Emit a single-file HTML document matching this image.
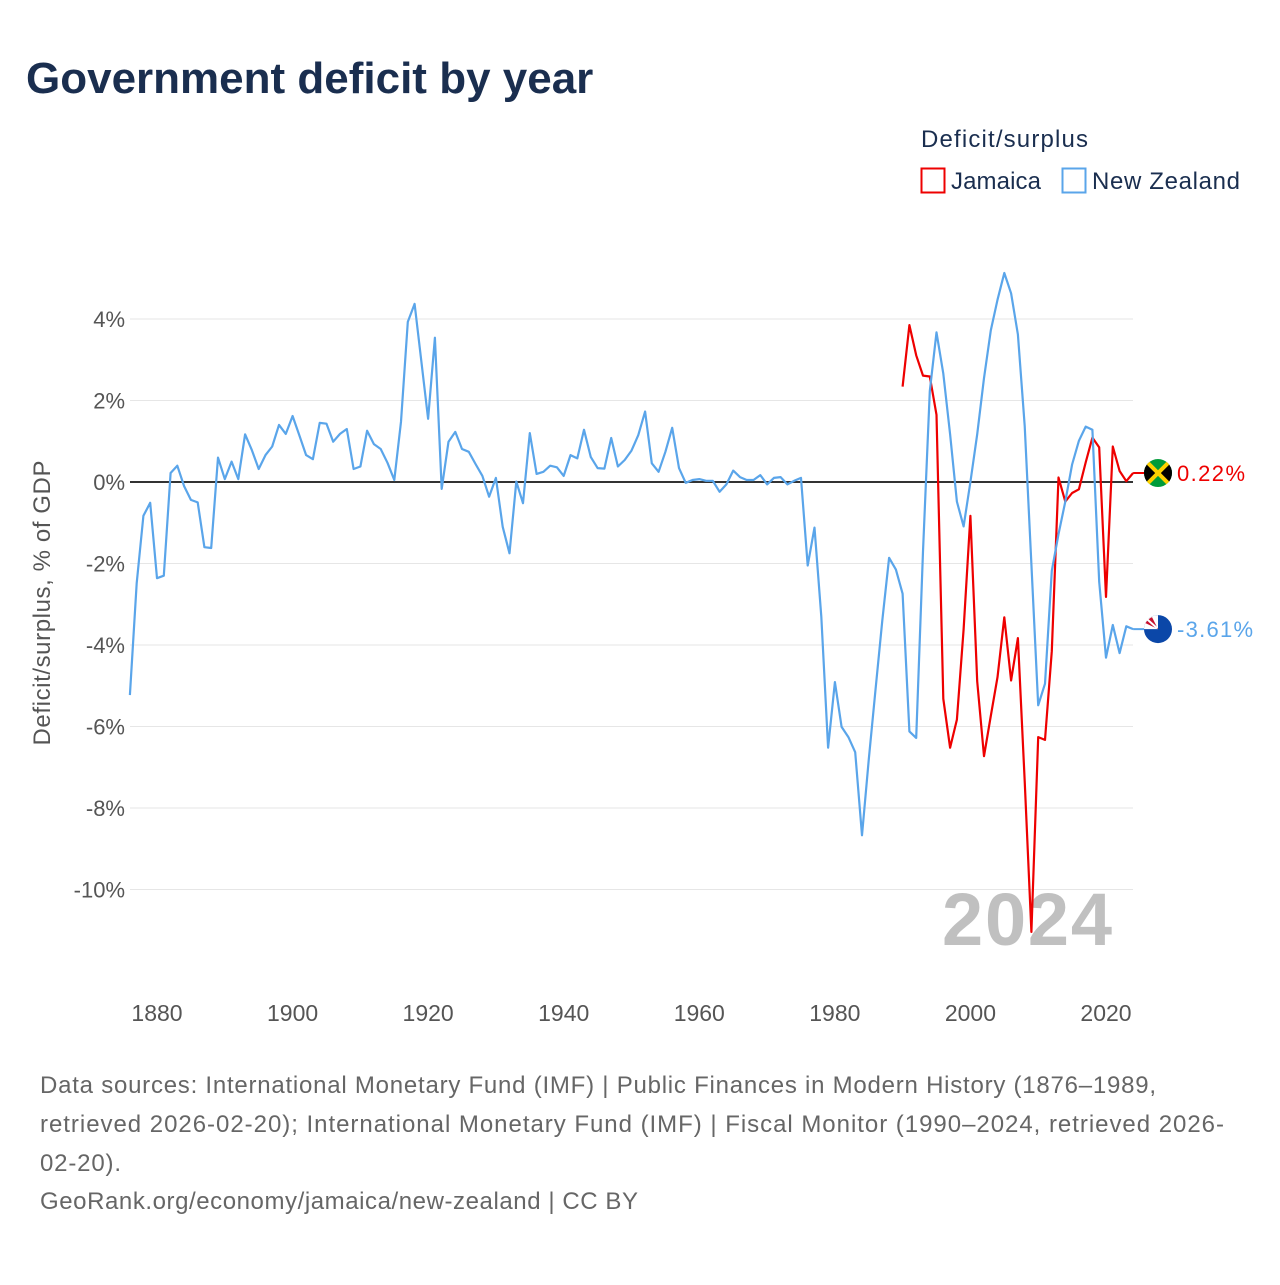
<!DOCTYPE html>
<html><head><meta charset="utf-8"><style>
body{margin:0;background:#fff;width:1280px;height:1280px;overflow:hidden;font-family:"Liberation Sans",sans-serif}
</style></head><body>
<svg width="1280" height="1280" viewBox="0 0 1280 1280">
<defs><clipPath id="fc1"><circle cx="1158" cy="473" r="14"/></clipPath></defs>
<text x="26" y="93" font-size="44" font-weight="bold" fill="#1a2e4f">Government deficit by year</text>
<text x="921" y="147" font-size="24" fill="#1a2e4f" textLength="167">Deficit/surplus</text>
<g><rect x="921.5" y="168.5" width="23" height="24" fill="none" stroke="#e00" stroke-width="2"/><text x="951" y="189" font-size="24" fill="#1a2e4f" textLength="90">Jamaica</text></g>
<g><rect x="1062.5" y="168.5" width="23" height="24" fill="none" stroke="#5aa5ea" stroke-width="2"/><text x="1092" y="189" font-size="24" fill="#1a2e4f" textLength="148">New Zealand</text></g>
<g id="grid"></g><g id="yt"></g><g id="xt"></g>
<text x="1112" y="945" text-anchor="end" font-size="74" font-weight="bold" fill="#c0c0c0" textLength="170">2024</text>
<g id="lines"></g>
<text transform="translate(50,603) rotate(-90)" text-anchor="middle" font-size="24" fill="#555" textLength="285">Deficit/surplus, % of GDP</text>
<g font-size="24" fill="#666">
<text x="40" y="1093" textLength="1116">Data sources: International Monetary Fund (IMF) | Public Finances in Modern History (1876–1989,</text>
<text x="40" y="1132" textLength="1184">retrieved 2026-02-20); International Monetary Fund (IMF) | Fiscal Monitor (1990–2024, retrieved 2026-</text>
<text x="40" y="1171" textLength="81">02-20).</text>
<text x="40" y="1209" textLength="598">GeoRank.org/economy/jamaica/new-zealand | CC BY</text>
</g>
</svg>
<script>
const nzYears0 = 1876;
const nzValues = [-5.23,-2.48,-0.83,-0.51,-2.36,-2.3,0.22,0.4,-0.1,-0.44,-0.5,-1.6,-1.62,0.6,0.07,0.5,0.07,1.17,0.78,0.32,0.66,0.87,1.4,1.18,1.62,1.14,0.66,0.56,1.45,1.43,0.99,1.18,1.3,0.32,0.38,1.26,0.93,0.81,0.47,0.05,1.48,3.93,4.37,2.95,1.55,3.54,-0.17,0.99,1.23,0.81,0.74,0.44,0.15,-0.36,0.1,-1.1,-1.75,0.01,-0.52,1.2,0.2,0.25,0.4,0.36,0.15,0.66,0.58,1.28,0.61,0.34,0.33,1.08,0.38,0.54,0.77,1.15,1.73,0.46,0.25,0.74,1.33,0.34,-0.02,0.05,0.07,0.03,0.03,-0.24,-0.06,0.28,0.12,0.05,0.05,0.17,-0.06,0.1,0.12,-0.06,0.03,0.1,-2.05,-1.12,-3.3,-6.52,-4.91,-6.01,-6.26,-6.63,-8.67,-6.8,-5.1,-3.4,-1.86,-2.15,-2.74,-6.12,-6.28,-1.7,2.23,3.67,2.66,1.17,-0.48,-1.09,0,1.17,2.55,3.72,4.47,5.13,4.63,3.62,1.38,-2.02,-5.48,-4.95,-2.18,-1.28,-0.48,0.43,1.01,1.36,1.28,-2.45,-4.31,-3.51,-4.2,-3.54,-3.61];
const jmYears0 = 1990;
const jmValues = [2.34,3.85,3.11,2.61,2.59,1.65,-5.32,-6.52,-5.83,-3.62,-0.83,-4.89,-6.73,-5.74,-4.79,-3.32,-4.87,-3.83,-7.34,-11.04,-6.26,-6.33,-4.15,0.11,-0.48,-0.27,-0.18,0.48,1.09,0.85,-2.82,0.87,0.27,0.02,0.22];
const yTicks = [4,2,0,-2,-4,-6,-8,-10];
const xTicks = [1880,1900,1920,1940,1960,1980,2000,2020];
const NS='http://www.w3.org/2000/svg';
const X = y => 157 + (y-1880)*(949/140);
const Y = v => 482 - v*40.75;
function mk(tag, attrs, parent){const e=document.createElementNS(NS,tag);for(const k in attrs)e.setAttribute(k,attrs[k]);parent.appendChild(e);return e;}
const grid=document.getElementById('grid'), yt=document.getElementById('yt'), xt=document.getElementById('xt'), lines=document.getElementById('lines');
yTicks.forEach(v=>{
  const l=mk('line',{x1:130,x2:1133,y1:Y(v),y2:Y(v),stroke:'#e6e6e6','stroke-width':1},grid);
  
  
  const t=mk('text',{x:125,y:Y(v)+8,'text-anchor':'end','font-size':22,fill:'#555'},yt);
  t.textContent=(v===0?'0':v)+'%';
  
  
});
xTicks.forEach(yr=>{
  const t=mk('text',{x:X(yr),y:1021,'text-anchor':'middle','font-size':23,fill:'#555'},xt);
  t.textContent=yr;
  
  
});
const z=mk('line',{x1:130,x2:1133,y1:Y(0),y2:Y(0),stroke:'#333','stroke-width':2},lines);


function series(y0,vals,color,name){
  const d=vals.map((v,i)=>(i?'L':'M')+X(y0+i).toFixed(1)+','+Y(v).toFixed(1)).join('');
  const p=mk('path',{d:d,fill:'none',stroke:color,'stroke-width':2.2,'stroke-linejoin':'round'},lines);
  
  
  const lx=X(y0+vals.length-1), ly=Y(vals[vals.length-1]);
  mk('line',{x1:lx,x2:1150,y1:ly,y2:ly,stroke:color,'stroke-width':2},lines);
  return ly;
}
const jy=series(jmYears0,jmValues,'#e00','jamaica');
const ny=series(nzYears0,nzValues,'#5aa5ea','new-zealand');
document.querySelector('#fc1 circle').setAttribute('cy',jy);
const fj=mk('g',{'clip-path':'url(#fc1)'},lines);


mk('rect',{x:1144,y:jy-14,width:28,height:28,fill:'#009b3a'},fj);
mk('path',{d:`M1144,${jy-12}L1156,${jy}L1144,${jy+12}Z M1172,${jy-12}L1160,${jy}L1172,${jy+12}Z`,fill:'#000'},fj);
mk('line',{x1:1144,y1:jy-14,x2:1172,y2:jy+14,stroke:'#fed100','stroke-width':4},fj);
mk('line',{x1:1144,y1:jy+14,x2:1172,y2:jy-14,stroke:'#fed100','stroke-width':4},fj);
const fn=mk('g',{},lines);


mk('circle',{cx:1158,cy:ny,r:14,fill:'#0b47a8'},fn);
mk('path',{d:`M1144,${ny}A14,14 0 0 1 1158,${ny-14}L1158,${ny}Z`,fill:'#fff'},fn);
mk('path',{d:`M1145.5,${ny-6}A14,14 0 0 1 1152,${ny-12}L1158,${ny}Z`,fill:'#c8102e'},fn);
mk('line',{x1:1147,y1:ny-10,x2:1157,y2:ny-1,stroke:'#fff','stroke-width':2},fn);
const l1=mk('text',{x:1177,y:jy+8,'font-size':22,fill:'#e00',textLength:68},lines);
l1.textContent='0.22%';


const l2=mk('text',{x:1177,y:ny+8,'font-size':22,fill:'#5aa5ea',textLength:76},lines);
l2.textContent='-3.61%';


</script>
</body></html>
